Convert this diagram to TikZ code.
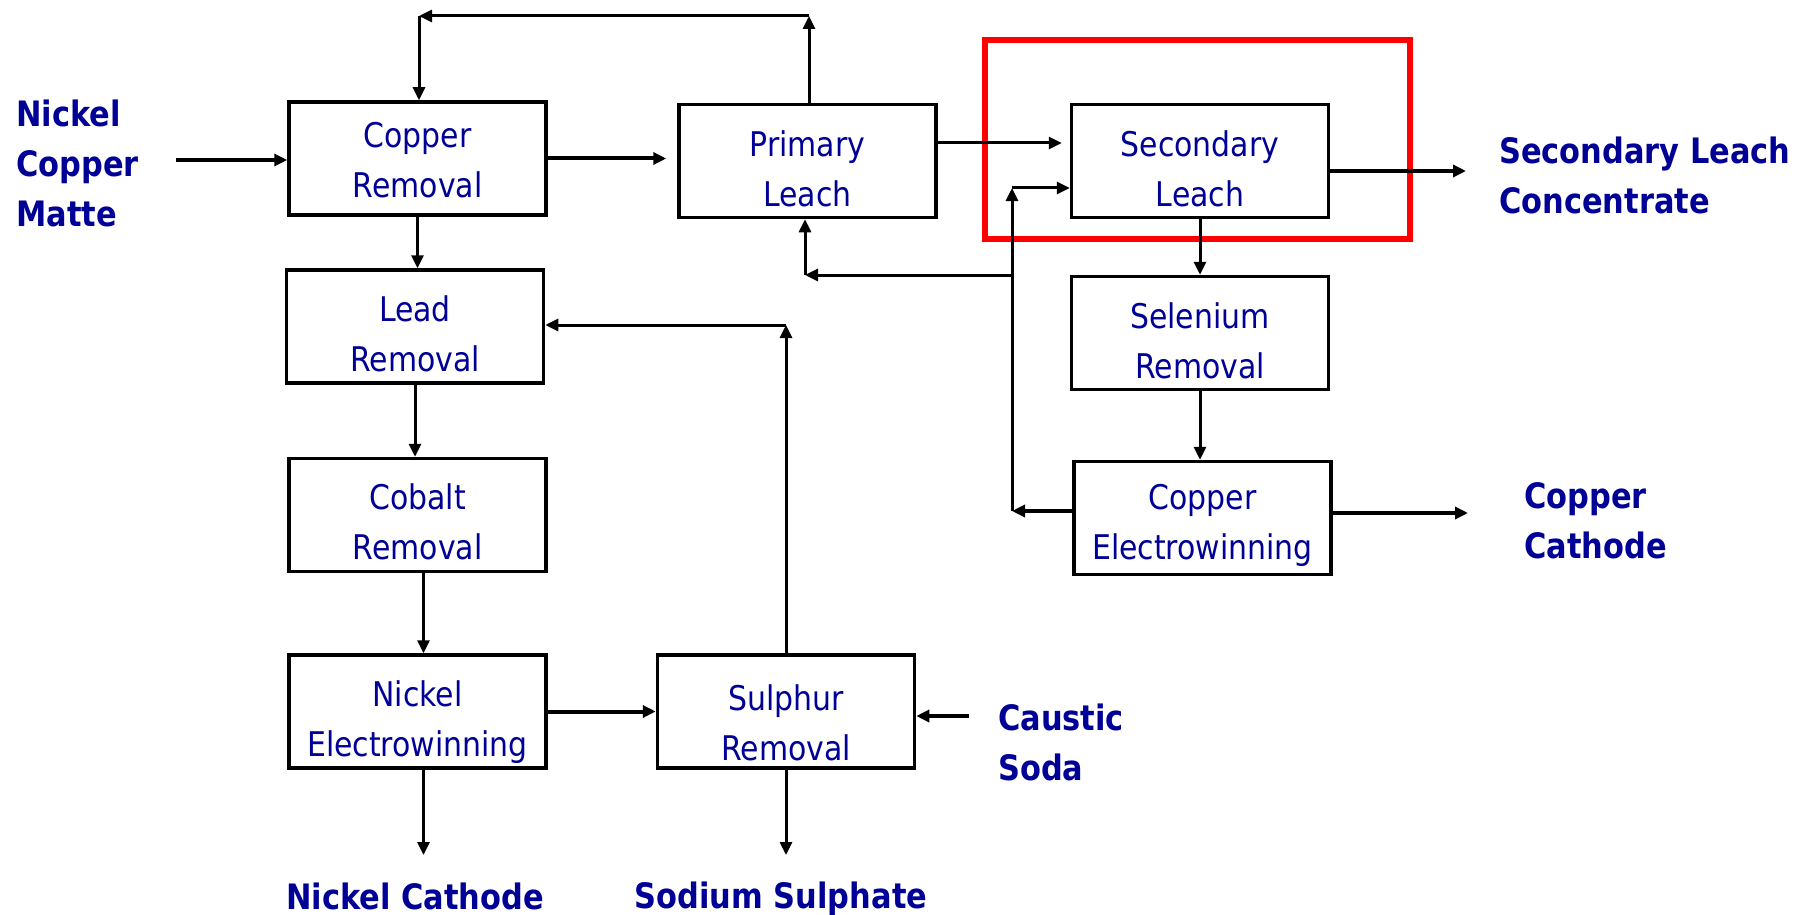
\documentclass[tikz,border=0pt]{standalone}
\usepackage{fontspec}
\usetikzlibrary{arrows.meta}
\newfontfamily\boxfont{DejaVu Sans}[FakeStretch=0.88]
\newfontfamily\lblfont{DejaVu Sans}[FakeStretch=0.87]
\definecolor{txtblue}{RGB}{0,0,150}
\definecolor{hired}{RGB}{255,0,0}
\newcommand{\pbtext}[3][45]{\rule{0pt}{#1pt}#2\\#3\rule[-5pt]{0pt}{5pt}}
\begin{document}
\begin{tikzpicture}[x=1pt,y=-1pt,
  proc/.style={draw=black, line width=3.5pt, minimum width=257pt, minimum height=113pt,
    inner sep=0pt, text=txtblue, align=center, font=\boxfont\fontsize{34}{50}\selectfont},
  lbl/.style={text=txtblue, inner sep=0pt, font=\lblfont\bfseries\fontsize{35}{50}\selectfont},
  flow/.style={line width=3pt, -{Triangle[length=13pt,width=12pt]}},
  thickflow/.style={flow, line width=4pt},
  focusbox/.style={draw=hired, line width=6pt, minimum width=425pt, minimum height=199pt, inner sep=0pt}]
\useasboundingbox (0,0) rectangle (1800,915);

% process boxes
\node[proc] (cr)  at (417.5,158.5) {\pbtext[33]{Copper}{Removal}};
\node[proc] (pl)  at (807.5,161)   {\pbtext{Primary}{Leach}};
\node[proc] (lr)  at (415,326.5)   {\pbtext{Lead}{Removal}};
\node[proc] (cor) at (417.5,515)   {\pbtext[43]{Cobalt}{Removal}};
\node[proc] (ne)  at (417.5,711.5) {\pbtext[48]{Nickel}{Electrowinning}};
\node[proc] (sr)  at (786,711.5)   {\pbtext[52]{Sulphur}{Removal}};
\node[proc] (sl)  at (1200,161)    {\pbtext{Secondary}{Leach}};
\node[proc] (ser) at (1200,333)    {\pbtext{Selenium}{Removal}};
\node[proc] (cew) at (1202.5,518)  {\pbtext[40]{Copper}{Electrowinning}};

% red highlight
\node[focusbox] (focus) at (1197.5,139.5) {};

% labels
\node[lbl, anchor=west, align=left] (matte) at (16,163)  {Nickel\\Copper\\Matte};
\node[lbl, anchor=west, align=left] (slc)   at (1499,175) {Secondary Leach\\Concentrate};
\node[lbl, anchor=west, align=left] (cc)    at (1524,521) {Copper\\Cathode};
\node[lbl, anchor=west, align=left] (soda)  at (998,742)  {Caustic\\Soda};
\node[lbl] (nc) at (415,896) {Nickel Cathode};
\node[lbl] (ss) at (781,899) {Sodium Sulphate};

% helper coordinates
\coordinate (m0)    at (176,160);
\coordinate (loopR) at (809,16);
\coordinate (loopL) at (419,16);
\coordinate (sret)  at (786,325);
\coordinate (cs0)   at (969,716);
\coordinate (p2s)   at (938,143);
\coordinate (slout) at (1466,171);
\coordinate (ccout) at (1468,513);
\coordinate (rl)    at (1012,511);
\coordinate (ru)    at (1012,188);
\coordinate (rm)    at (1012,275);
\coordinate (pm)    at (805,275);
\coordinate (bot)   at (0,855);

% connectors
\draw[thickflow] (m0) -- (m0 -| cr.west);
\draw[thickflow, shorten >=11pt] (cr.east) -- (cr.east -| pl.west);
\draw[flow] (pl.north -| loopR) -- (loopR);
\draw[flow] (loopR) -- (loopL);
\draw[flow] (loopL) -- (loopL |- cr.north);
\draw[flow] (cr.south) -- (cr.south |- lr.north);
\draw[flow] (lr.south) -- (lr.south |- cor.north);
\draw[flow] ([xshift=6pt]cor.south) -- ([xshift=6pt]cor.south |- ne.north);
\draw[flow] ([xshift=6pt]ne.south) -- ([xshift=6pt]ne.south |- bot);
\draw[thickflow] (ne.east) -- (sr.west);
\draw[flow] (sr.south) -- (sr.south |- bot);
\draw[flow] (sr.north) -- (sret);
\draw[flow] (sret) -- (sret -| lr.east);
\draw[thickflow] (cs0) -- (cs0 -| sr.east);
\draw[flow, shorten >=8pt] (p2s -| pl.east) -- (p2s -| sl.west);
\draw[thickflow] (slout -| sl.east) -- (slout);
\draw[flow] (sl.south) -- (ser.north);
\draw[flow] (ser.south) -- (ser.south |- cew.north);
\draw[thickflow] (ccout -| cew.east) -- (ccout);
\draw[thickflow] (rl -| cew.west) -- (rl);
\draw[flow] (rl) -- (ru);
\draw[flow] (ru) -- (ru -| sl.west);
\draw[flow] (rm) -- (pm);
\draw[flow] (pm) -- (pm |- pl.south);
\end{tikzpicture}
\end{document}
